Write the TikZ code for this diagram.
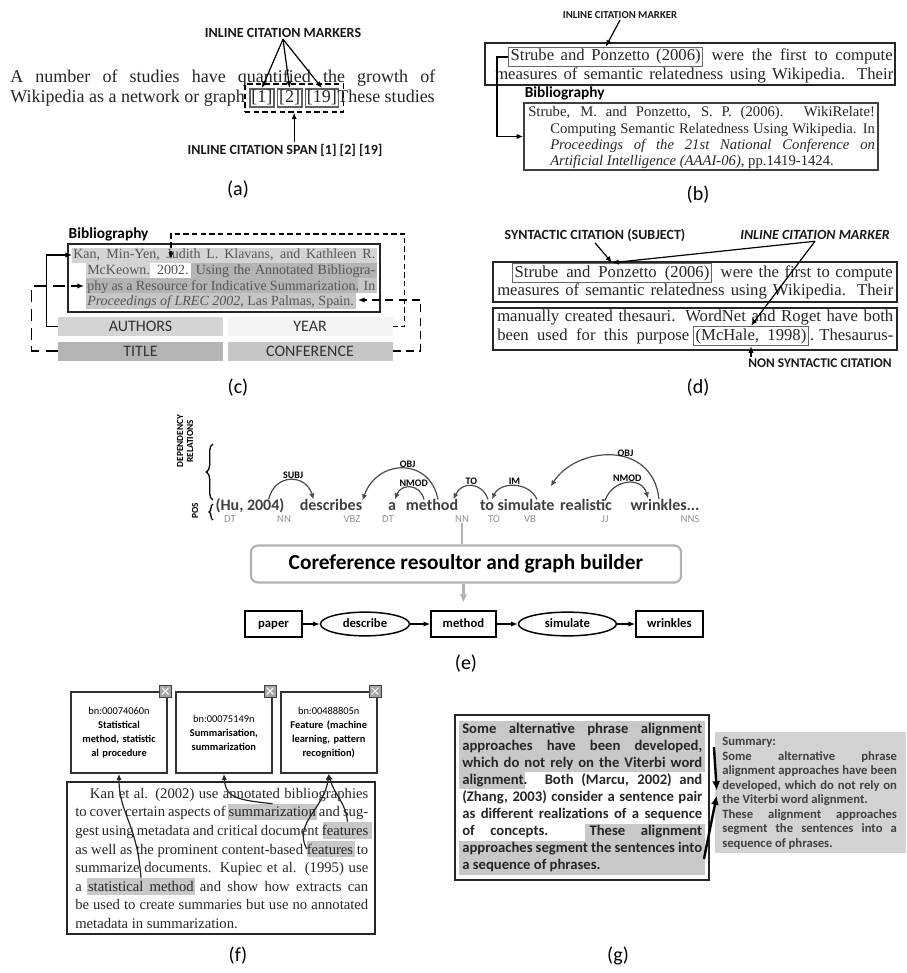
\documentclass[tikz,border=0pt]{standalone}
\usepackage{fontspec}
\setmainfont{Liberation Serif}
\newfontfamily\calibri{Carlito}
\usetikzlibrary{positioning,arrows.meta,shapes.geometric,fit,calc,decorations.pathreplacing}

\definecolor{authc}{HTML}{D4D4D4}
\definecolor{yearc}{HTML}{F4F4F4}
\definecolor{titlec}{HTML}{B4B4B4}
\definecolor{confc}{HTML}{C6C6C6}
\definecolor{hlc}{HTML}{C8C8C8}
\definecolor{inkc}{HTML}{262626}
\definecolor{bibc}{HTML}{555555}
\definecolor{sumc}{HTML}{D2D2D2}

\tikzset{
  subcap/.style={font=\calibri\fontsize{15}{17}\selectfont, inner sep=1pt},
  tagtxt/.style={font=\calibri\bfseries\fontsize{10.5}{12}\selectfont, inner sep=1pt, text=black!90},
  serifln/.style={font=\fontsize{12.5}{14}\selectfont, inner sep=0pt, text=inkc},
  citebox/.style={draw=gray!80!black, line width=1pt, inner sep=1.5pt, font=\fontsize{12.5}{14}\selectfont, text=inkc},
  citemark/.style={draw=gray!75!black, line width=1.2pt, inner sep=1.2pt, font=\fontsize{13.5}{15}\selectfont, text=inkc},
  boxframe/.style={draw=black!85, line width=1.4pt, inner sep=0pt},
  arr/.style={-{Latex[length=5pt,width=4pt]}, line width=0.9pt},
  bar/.style={minimum width=123.75pt, minimum height=14.25pt, inner sep=0pt, font=\calibri\fontsize{12}{14}\selectfont, text=black!80},
  bibhead/.style={font=\calibri\bfseries\fontsize{11.5}{13}\selectfont, inner sep=1pt},
  word/.style={font=\calibri\bfseries\fontsize{12}{14}\selectfont, text=black!75, inner sep=0pt, text height=8.5pt, text depth=2.5pt},
  postag/.style={font=\calibri\fontsize{8}{9}\selectfont, text=gray!85, inner sep=0pt},
  sidelbl/.style={font=\calibri\bfseries\fontsize{7}{7.5}\selectfont, rotate=90, align=center, inner sep=0pt},
  dep/.style={-{Latex[length=4.5pt,width=4pt]}, line width=0.9pt, draw=black!70},
  deplbl/.style={font=\calibri\bfseries\fontsize{7.5}{8}\selectfont, inner sep=0.5pt},
  gbox/.style={draw, line width=1.1pt, minimum height=19.5pt, inner sep=2pt, text height=6.8pt, text depth=1.8pt, font=\calibri\bfseries\fontsize{9.5}{11}\selectfont},
  gell/.style={gbox, ellipse, minimum height=15pt},
  bnbox/.style={draw=black!80, line width=1.4pt, minimum width=72pt, minimum height=60.75pt, text width=66pt, align=center, font=\calibri\fontsize{7.8}{10.5}\selectfont, inner sep=0pt},
  bnicon/.style={fill=gray!70, draw=gray!50!black, line width=0.4pt, minimum size=9pt, inner sep=0pt,
    path picture={\draw[white, line width=0.8pt]
      ([shift={(2pt,2pt)}]path picture bounding box.south west) -- ([shift={(-2pt,-2pt)}]path picture bounding box.north east)
      ([shift={(2pt,-2pt)}]path picture bounding box.north west) -- ([shift={(-2pt,2pt)}]path picture bounding box.south east);}},
  hlbox/.style={fill=hlc, inner sep=0pt},
  fcurve/.style={{Latex[length=4.5pt,width=4pt]}-, line width=0.9pt, draw=black!85},
  garr/.style={-{Latex[length=7pt,width=6pt]}, line width=1.8pt}
}

\begin{document}
\begin{tikzpicture}[x=0.75pt, y=-0.75pt, >=Latex]
\fill[white] (0,0) rectangle (906,973);
\useasboundingbox (0,0) rectangle (906,973);

% (a) inline citation markers and span
\node[tagtxt] (marks) at (283,33) {INLINE CITATION MARKERS};
\node[serifln, font=\fontsize{13.5}{15}\selectfont, anchor=base west] (aone) at (10,83) {\makebox[318.75pt][s]{A number of studies have quantified the growth of}};
\node[serifln, font=\fontsize{13.5}{15}\selectfont, anchor=base west] (atwo) at (10,103) {Wikipedia as a network or graph};
\node[citemark, anchor=base west] (m1) at (249,103) {[1]};
\node[citemark, right=1.5pt of m1] (m2) {[2]};
\node[citemark, right=1.5pt of m2] (m19) {[19]};
\node[draw, dash pattern=on 4pt off 2.5pt, line width=1.1pt, fit=(m1)(m19), inner sep=3pt] (span) {};
\node[serifln, font=\fontsize{13.5}{15}\selectfont, anchor=base east] (athree) at (435,103) {These studies};
\draw[arr] (marks.south) -- (m1.north);
\draw[arr] (marks.south) -- (m2.north);
\draw[arr] (marks.south) -- (m19.north);
\node[tagtxt] (spanlbl) at (285,150) {INLINE CITATION SPAN [1] [2] [19]};
\draw[arr] (span.south |- spanlbl.north) -- (span.south);
\node[subcap] (capa) at (238,190) {(a)};

% (b) marker linked to its bibliography entry
\node[tagtxt, font=\calibri\bfseries\fontsize{8}{9}\selectfont] (bmark) at (620,15) {INLINE CITATION MARKER};
\node[boxframe, minimum width=307.5pt, minimum height=31.5pt] (bpar) at (690,64) {};
\node[citebox, anchor=base west] (bcite) at (508,61) {\makebox[142.5pt][s]{Strube and Ponzetto (2006)}};
\node[serifln, anchor=base east] (brest) at (893,61) {\makebox[135.75pt][s]{were the first to compute}};
\node[serifln, anchor=base west] (btwo) at (495,80) {\makebox[298.5pt][s]{measures of semantic relatedness using Wikipedia. Their}};
\draw[arr] (bmark.south) -- (bcite.north);
\node[boxframe, draw=black!75, line width=1.2pt, minimum width=265.5pt, minimum height=50.25pt] (bibb) at (701,136.5) {};
\node[bibhead, anchor=south west] (bibl) at (bibb.north west) {Bibliography};
\node[serifln, font=\fontsize{11}{12}\selectfont, anchor=base west] (bibt) at (528,117) {\makebox[260pt][s]{Strube, M. and Ponzetto, S. P. (2006). WikiRelate!}};
\node[serifln, font=\fontsize{11}{12}\selectfont, text width=243.5pt, align=justify, anchor=north west] (bibu) at (550,123) {Computing Semantic Relatedness Using Wikipedia. In\linebreak \textit{Proceedings of the 21st National Conference on}\linebreak \textit{Artificial Intelligence (AAAI-06)}, pp.1419-1424.};
\draw[arr] (bcite.west) -- ++(-11,0) |- (bibb.west);
\node[subcap] (capb) at (698,195) {(b)};

% (c) bibliography fields
\fill[authc] (72,248) rectangle (377,263);
\fill[authc] (86,263) rectangle (150,278);
\fill[titlec] (191,263) rectangle (377,278);
\fill[titlec] (86,278) rectangle (358,293.5);
\fill[confc] (358,278) rectangle (377,293.5);
\fill[confc] (86,293.5) rectangle (356,309);
\node[serifln, font=\fontsize{10.5}{11.5}\selectfont, text=bibc, anchor=base west] (cbib) at (73,259) {\makebox[226.5pt][s]{Kan, Min-Yen, Judith L. Klavans, and Kathleen R.}};
\node[serifln, font=\fontsize{10.5}{11.5}\selectfont, text=bibc, text width=216pt, align=justify, anchor=north west] (cbibu) at (87,265) {McKeown. 2002. Using the Annotated Bibliogra-\linebreak phy as a Resource for Indicative Summarization. In\linebreak \textit{Proceedings of LREC 2002}, Las Palmas, Spain.};
\node[boxframe, minimum width=234pt, minimum height=51pt] (cbox) at (224,278) {};
\node[bibhead, anchor=south west] (cbibl) at (cbox.north west) {Bibliography};
\node[bar, fill=authc] (authors) at (140.5,326.5) {AUTHORS};
\node[bar, fill=yearc, right=3pt of authors] (year) {YEAR};
\node[bar, fill=titlec, below=3.75pt of authors] (title) {TITLE};
\node[bar, fill=confc, right=3pt of title] (conf) {CONFERENCE};
\coordinate (kan) at (72,255);
\coordinate (phy) at (84,286);
\coordinate (yr) at (171,259);
\coordinate (spain) at (358,300);
\draw[arr] (authors.west) -- ++(-11,0) |- (kan);
\draw[arr, dash pattern=on 9pt off 5pt] (title.west) -- ++(-26,0) |- (phy);
\draw[arr, dash pattern=on 4pt off 2.5pt] (year.east) -- ++(12,0) |- ($(yr)+(0,-25)$) -- (yr);
\draw[arr, dash pattern=on 6pt off 4pt] (conf.east) -- ++(28,0) |- (spain);
\node[subcap] (capc) at (238,388) {(c)};

% (d) syntactic and non syntactic citations
\node[tagtxt] (syn) at (595,235) {SYNTACTIC CITATION (SUBJECT)};
\node[tagtxt, font=\calibri\bfseries\itshape\fontsize{10.5}{12}\selectfont] (dmark) at (815,235) {INLINE CITATION MARKER};
\node[boxframe, minimum width=303pt, minimum height=30pt] (dpar1) at (695,282) {};
\node[citebox, anchor=base west] (dcite) at (512,277) {\makebox[146pt][s]{Strube and Ponzetto (2006)}};
\node[serifln, anchor=base east] (drest) at (893,277) {\makebox[129pt][s]{were the first to compute}};
\node[serifln, anchor=base west] (dtwo) at (497,296) {\makebox[297pt][s]{measures of semantic relatedness using Wikipedia. Their}};
\node[boxframe, minimum width=303pt, minimum height=31.5pt] (dpar2) at (695,329) {};
\node[serifln, anchor=base west] (dthree) at (497,321) {\makebox[297pt][s]{manually created thesauri. WordNet and Roget have both}};
\node[serifln, anchor=base west] (dfour) at (497,340) {\makebox[144pt][s]{been used for this purpose}};
\node[citebox, anchor=base west] (mcb) at (693,340) {\makebox[83pt][s]{(McHale, 1998)}};
\node[serifln, anchor=base east] (dfive) at (893,340) {\makebox[62pt][s]{. Thesaurus-}};
\draw[arr] (syn.south) -- (dcite.north);
\draw[arr] (dmark.south) -- (dcite.north);
\draw[arr] (dmark.south) -- (mcb.north);
\node[tagtxt, font=\calibri\bfseries\fontsize{10}{12}\selectfont] (nonsyn) at (820,363) {NON SYNTACTIC CITATION};
\draw[arr] (mcb.south |- nonsyn.north) -- (mcb.south);
\node[subcap] (capd) at (698,388) {(d)};

% (e) dependency parse to graph
\node[sidelbl] (deplab) at (185,441) {DEPENDENCY\\RELATIONS};
\node[sidelbl] (poslab) at (195,511) {POS};
\draw[line width=1pt, decorate, decoration={brace, amplitude=5pt}] (213,500) -- (213,444);
\draw[line width=1pt, decorate, decoration={brace, amplitude=3pt}] (213,520) -- (213,504);
\node[word] (w1) at (250,506) {(Hu, 2004)};
\node[word] (w2) at (331,506) {describes};
\node[word] (w3) at (392,506) {a};
\node[word] (w4) at (432,506) {method};
\node[word] (w5) at (487,506) {to};
\node[word] (w6) at (526,506) {simulate};
\node[word] (w7) at (586,506) {realistic};
\node[word] (w8) at (665,506) {wrinkles...};
\node[postag] (t1) at (230,519) {DT};
\node[postag] (t2) at (284,519) {NN};
\node[postag] (t3) at (352,519) {VBZ};
\node[postag] (t4) at (388,519) {DT};
\node[postag] (t5) at (462,519) {NN};
\node[postag] (t6) at (494,519) {TO};
\node[postag] (t7) at (530,519) {VB};
\node[postag] (t8) at (605,519) {JJ};
\node[postag] (t9) at (690,519) {NNS};
\draw[dep] ($(w1.north east)+(-16,1)$) .. controls +(6,-26) and +(-8,-26) .. ($(w2.north west)+(14,1)$) node[deplbl, pos=0.55, above] (lsubj) {SUBJ};
\draw[dep] ($(w4.north)+(6,1)$) .. controls +(-8,-42) and +(15,-42) .. ($(w2.north east)+(0,2)$) node[deplbl, pos=0.45, above] (lobja) {OBJ};
\draw[dep] ($(w4.north)+(-8,1)$) .. controls +(-4,-16) and +(6,-16) .. ($(w3.north)+(3,1)$) node[deplbl, pos=0.4, above] (lnmoda) {NMOD};
\draw[dep] ($(w5.north)+(1,1)$) .. controls +(-6,-18) and +(8,-18) .. ($(w4.north east)+(-5,1)$) node[deplbl, pos=0.5, above] (lto) {TO};
\draw[dep] ($(w6.north)+(11,1)$) .. controls +(-8,-18) and +(8,-18) .. ($(w5.north)+(5,1)$) node[deplbl, pos=0.5, above] (lim) {IM};
\draw[dep] ($(w8.north)+(-6,1)$) .. controls +(-6,-60) and +(25,-40) .. ($(w6.north east)+(-4,-12)$) node[deplbl, pos=0.4, above] (lobjb) {OBJ};
\draw[dep] ($(w7.north)+(19,2)$) .. controls +(8,-22) and +(-6,-22) .. ($(w8.north)+(-17,0)$) node[deplbl, pos=0.5, above] (lnmodb) {NMOD};
\node[draw=gray!60, line width=1.6pt, rounded corners=5pt, minimum width=322.5pt, minimum height=27.75pt, font=\calibri\bfseries\fontsize{16}{18}\selectfont] (coref) at (466,564) {Coreference resoultor and graph builder};
\draw[line width=1.2pt, gray!60] (t5.south) -- (t5.south |- coref.north);
% graph row
\node[gbox, minimum width=42.75pt] (gp) at (273.5,624) {paper};
\node[gell, minimum width=66.75pt, right=12.75pt of gp] (gd) {describe};
\node[gbox, minimum width=48.75pt, right=15pt of gd] (gm) {method};
\node[gell, minimum width=73.5pt, right=15.75pt of gm] (gs) {simulate};
\node[gbox, minimum width=50.25pt, right=13.5pt of gs] (gw) {wrinkles};
\draw[arr] (gp) -- (gd);
\draw[arr] (gd) -- (gm);
\draw[arr] (gm) -- (gs);
\draw[arr] (gs) -- (gw);
\draw[-{Latex[length=6pt,width=6pt]}, line width=1.6pt, gray!60, shorten >=6pt] (coref.south -| gm.north) -- (gm.north);
\node[subcap] (cape) at (466,664) {(e)};

% (f) BabelNet senses of highlighted terms
\node[bnbox] (fb1) at (119,732.5) {bn:00074060n\\\textbf{Statistical}\\\textbf{method, statistic}\\\textbf{al procedure}};
\node[bnbox, right=5.25pt of fb1] (fb2) {bn:00075149n\\\textbf{Summarisation,}\\\textbf{summarization}};
\node[bnbox, right=5.25pt of fb2] (fb3) {bn:00488805n\\\textbf{Feature (machine}\\\textbf{learning, pattern}\\\textbf{recognition)}};
\node[bnicon] (ic1) at ([xshift=-2pt]fb1.north east) {};
\node[bnicon] (ic2) at ([xshift=-2pt]fb2.north east) {};
\node[bnicon] (ic3) at ([xshift=-2pt]fb3.north east) {};
\node[hlbox, minimum width=66.75pt, minimum height=12pt] (hsum) at (272.5,812) {};
\node[hlbox, minimum width=36.75pt, minimum height=12.75pt] (hfa) at (347.5,830.5) {};
\node[hlbox, minimum width=36pt, minimum height=12pt] (hfb) at (331,849) {};
\node[hlbox, minimum width=81pt, minimum height=12.75pt] (hstat) at (141,886.5) {};
\node[serifln, font=\fontsize{11}{13.9}\selectfont, text width=219.75pt, align=justify, anchor=north west] (ftext) at (75,788) {\hspace*{11pt}Kan et al. (2002) use annotated bibliographies\linebreak to cover certain aspects of summarization and sug-\linebreak gest using metadata and critical document features\linebreak as well as the prominent content-based features to\linebreak summarize documents. Kupiec et al. (1995) use\linebreak a statistical method and show how extracts can\linebreak be used to create summaries but use no annotated\linebreak metadata in summarization.};
\node[boxframe, minimum width=231pt, minimum height=114pt] (fpar) at (221,858) {};
\draw[fcurve] (fb1.south) .. controls +(0,40) and +(-4,-55) .. (hstat.north);
\draw[fcurve] (fb2.south) .. controls +(2,24) and +(-36,-4) .. (hsum.north);
\draw[fcurve] (fb3.south) .. controls +(-4,35) and +(-14,-26) .. (hfb.west);
\draw[fcurve] (fb3.south) .. controls +(5,20) and +(-2,-20) .. (hfa.north);
\node[subcap] (capf) at (238,956) {(f)};

% (g) summary sentences
\fill[hlc] (459,720.5) rectangle (705,771.5);
\fill[hlc] (459,771.5) rectangle (525,788.5);
\fill[hlc] (585,823.5) rectangle (705,840.5);
\fill[hlc] (459,840.5) rectangle (705,875);
\node[font=\calibri\bfseries\fontsize{11}{12.75}\selectfont, text=black!85, text width=180pt, align=justify, anchor=north west, inner sep=0pt] (gtext) at (462,723) {Some alternative phrase alignment\linebreak approaches have been developed,\linebreak which do not rely on the Viterbi word\linebreak alignment. Both (Marcu, 2002) and\linebreak (Zhang, 2003) consider a sentence pair\linebreak as different realizations of a sequence\linebreak of concepts. These alignment\linebreak approaches segment the sentences into\linebreak a sequence of phrases.};
\node[boxframe, minimum width=190.5pt, minimum height=123.75pt] (gleft) at (582,797.5) {};
\node[fill=sumc, minimum width=143.25pt, minimum height=90.75pt, inner sep=0pt] (gsum) at (810.5,792.5) {};
\node[font=\calibri\bfseries\fontsize{9.5}{10.9}\selectfont, text=black!75, text width=131pt, align=justify, anchor=north west, inner sep=0pt] (gsumt) at (722,737) {Summary:\\ Some alternative phrase\linebreak alignment approaches have been\linebreak developed, which do not rely on\linebreak the Viterbi word alignment.\\ These alignment approaches\linebreak segment the sentences into a\linebreak sequence of phrases.};
\draw[garr] ($(gleft.north east)+(4,33)$) -- ($(gsum.west)+(2,-2)$);
\draw[garr] ($(gleft.south east)+(-6,-22)$) -- ($(gsum.west)+(2,3)$);
\node[subcap] (capg) at (618,956) {(g)};
\end{tikzpicture}
\end{document}
